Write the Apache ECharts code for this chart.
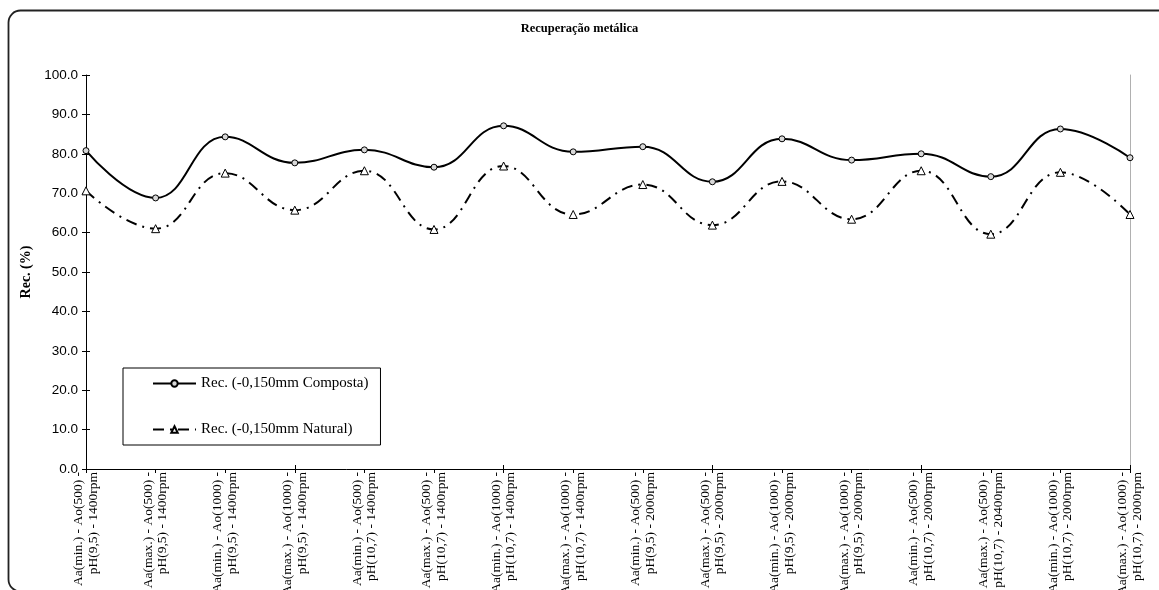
<!DOCTYPE html>
<html>
<head>
<meta charset="utf-8">
<title>Recuperação metálica</title>
<script src="https://cdn.jsdelivr.net/npm/echarts@6/dist/echarts.min.js"></script>
<style>
  html, body { margin: 0; padding: 0; background: #fff; }
  #chart { width: 1159px; height: 590px; }
</style>
</head>
<body>
<div id="chart"></div>
<script>
// Test conditions (collector dosages, pH and rotor speed)
const categories = [
  'Aa(min.) - Ao(500) -\npH(9,5) - 1400rpm',
  'Aa(max.) - Ao(500) -\npH(9,5) - 1400rpm',
  'Aa(min.) - Ao(1000) -\npH(9,5) - 1400rpm',
  'Aa(max.) - Ao(1000) -\npH(9,5) - 1400rpm',
  'Aa(min.) - Ao(500) -\npH(10,7) - 1400rpm',
  'Aa(max.) - Ao(500) -\npH(10,7) - 1400rpm',
  'Aa(min.) - Ao(1000) -\npH(10,7) - 1400rpm',
  'Aa(max.) - Ao(1000) -\npH(10,7) - 1400rpm',
  'Aa(min.) - Ao(500) -\npH(9,5) - 2000rpm',
  'Aa(max.) - Ao(500) -\npH(9,5) - 2000rpm',
  'Aa(min.) - Ao(1000) -\npH(9,5) - 2000rpm',
  'Aa(max.) - Ao(1000) -\npH(9,5) - 2000rpm',
  'Aa(min.) - Ao(500) -\npH(10,7) - 2000rpm',
  'Aa(max.) - Ao(500) -\npH(10,7) - 20400rpm',
  'Aa(min.) - Ao(1000) -\npH(10,7) - 2000rpm',
  'Aa(max.) - Ao(1000) -\npH(10,7) - 2000rpm'
];

// Metal recovery (%)
const recComposta = [80.8, 68.8, 84.3, 77.7, 81.0, 76.6, 87.1, 80.5, 81.8, 72.9, 83.8, 78.4, 80.0, 74.2, 86.3, 79.0];
const recNatural  = [70.6, 61.0, 75.1, 65.7, 75.7, 60.8, 76.9, 64.6, 72.2, 61.9, 73.0, 63.4, 75.7, 59.6, 75.3, 64.6];

const seriesNames = ['Rec. (-0,150mm Composta)', 'Rec. (-0,150mm Natural)'];
const yTicks = { min: 0, max: 100, interval: 10 };

const serif = '"Liberation Serif", "Times New Roman", serif';
const sans = '"Liberation Sans", Arial, sans-serif';

const chart = echarts.init(document.getElementById('chart'), null, { renderer: 'canvas' });

chart.setOption({
  backgroundColor: '#fff',
  animation: false,
  title: {
    text: 'Recuperação metálica',
    left: 'center',
    top: 17,
    textStyle: { fontFamily: serif, fontWeight: 'bold', fontSize: 12.5, color: '#000' }
  },
  graphic: [{
    // rounded chart-area frame, running off the right and bottom edges
    type: 'rect',
    silent: true,
    z: -1,
    shape: { x: 8.5, y: 10.5, width: 1200, height: 581, r: 12 },
    style: { fill: null, stroke: '#222', lineWidth: 1.8 }
  }],
  legend: {
    orient: 'vertical',
    left: 123,
    top: 368,
    data: seriesNames,
    backgroundColor: '#fff',
    borderColor: '#000',
    borderWidth: 1,
    padding: [7, 12, 7, 29],
    itemGap: 29,
    itemWidth: 43,
    itemHeight: 8,
    textStyle: { fontFamily: serif, fontSize: 15, lineHeight: 17, color: '#000' }
  },
  grid: {
    left: 86, right: 29, top: 75, bottom: 121,
    containLabel: false,
    outerBoundsMode: 'none'
  },
  xAxis: [{
    type: 'category',
    data: categories,
    boundaryGap: false,
    axisLine: { lineStyle: { color: '#000', width: 1 } },
    axisTick: { show: true, alignWithLabel: true, length: 4, lineStyle: { color: '#000' } },
    axisLabel: {
      interval: 0,
      rotate: 90,
      margin: 3,
      fontFamily: serif,
      fontSize: 13.5,
      lineHeight: 14.5,
      color: '#000'
    },
    splitLine: { show: false }
  }, {
    // inner half of the crossing category ticks
    type: 'category',
    data: categories,
    boundaryGap: false,
    position: 'bottom',
    axisLine: { show: false },
    axisTick: { show: true, inside: true, length: 4, lineStyle: { color: '#000' } },
    axisLabel: { show: false },
    splitLine: { show: false }
  }],
  yAxis: [{
    type: 'value',
    min: yTicks.min,
    max: yTicks.max,
    interval: yTicks.interval,
    name: 'Rec. (%)',
    nameLocation: 'middle',
    nameGap: 40,
    nameTextStyle: { fontFamily: serif, fontWeight: 'bold', fontSize: 14, color: '#000' },
    axisLine: { show: true, lineStyle: { color: '#000', width: 1 } },
    axisTick: { show: true, length: 4, lineStyle: { color: '#000' } },
    axisLabel: {
      fontFamily: sans,
      fontSize: 13.5,
      color: '#000',
      margin: 8,
      formatter: v => v.toFixed(1)
    },
    splitLine: { show: false }
  }, {
    // inner half of the crossing value ticks
    type: 'value',
    min: yTicks.min,
    max: yTicks.max,
    interval: yTicks.interval,
    position: 'left',
    axisLine: { show: false },
    axisTick: { show: true, inside: true, length: 4, lineStyle: { color: '#000' } },
    axisLabel: { show: false },
    splitLine: { show: false }
  }, {
    // light plot-area edge on the right
    type: 'value',
    min: yTicks.min,
    max: yTicks.max,
    interval: yTicks.interval,
    position: 'right',
    axisLine: { show: true, lineStyle: { color: '#b0b0b0', width: 1 } },
    axisTick: { show: false },
    axisLabel: { show: false },
    splitLine: { show: false }
  }],
  series: [{
    name: seriesNames[0],
    type: 'line',
    data: recComposta,
    smooth: 0.45,
    symbol: 'circle',
    symbolSize: 6,
    lineStyle: { color: '#000', width: 2 },
    itemStyle: { color: '#d8d8d8', borderColor: '#000', borderWidth: 1 },
    z: 3
  }, {
    name: seriesNames[1],
    type: 'line',
    data: recNatural,
    smooth: 0.45,
    symbol: 'triangle',
    symbolSize: 8,
    lineStyle: { color: '#000', width: 2, type: [11, 6, 2, 6] },
    itemStyle: { color: '#fff', borderColor: '#000', borderWidth: 1 },
    z: 3
  }]
});
</script>
</body>
</html>
